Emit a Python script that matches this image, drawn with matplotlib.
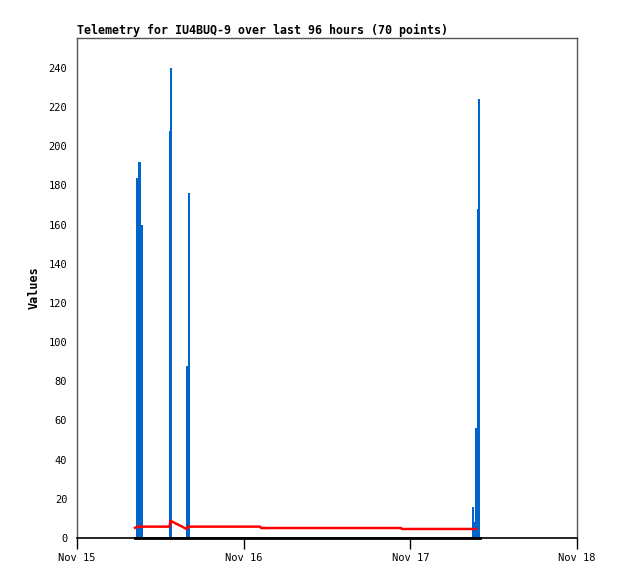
import matplotlib
matplotlib.use("Agg")
import matplotlib.pyplot as plt

# hours since Nov 15 00:00
blue_t = [8.6, 8.95, 9.1, 9.35, 13.35, 13.55, 15.85, 16.1, 57.0, 57.2, 57.5, 57.7, 57.9]
blue_v = [184, 192, 192, 160, 208, 240, 88, 176, 16, 8, 56, 168, 224]

red_t = [8.35, 8.8, 13.32, 13.46, 15.8, 15.98, 26.35, 26.5, 46.66, 46.8, 57.46]
red_v = [5.2, 5.8, 5.8, 8.8, 4.6, 5.8, 5.8, 5.1, 5.1, 4.6, 4.6]

black_t = [8.35, 58.0]
black_v = [0, 0]

tick_hours = [0, 24, 48, 72]
tick_labels = ["Nov 15", "Nov 16", "Nov 17", "Nov 18"]
y_ticks = list(range(0, 241, 20))

mono = "DejaVu Sans Mono"

fig = plt.figure(figsize=(6.18, 5.79), dpi=100)
ax = fig.add_axes([77/618, 41/579, 500/618, 500/579])

ax.bar(blue_t, blue_v, width=0.25, color="#0066cc", align="center", zorder=2)
ax.plot(red_t, red_v, color="#ff0000", linewidth=1.8, zorder=3)
ax.plot(black_t, black_v, color="black", linewidth=2, zorder=4, clip_on=False)

ax.set_xlim(0, 72)
ax.set_ylim(0, 255.3)
ax.set_xticks(tick_hours)
ax.set_xticklabels(tick_labels, fontfamily=mono, fontsize=7.5)
ax.set_yticks(y_ticks)
ax.set_yticklabels([str(v) for v in y_ticks], fontfamily=mono, fontsize=7.5)
ax.tick_params(axis="x", length=8, width=1, pad=3, direction="out")
ax.tick_params(axis="y", length=0, pad=7)

for s in ["left", "top", "right"]:
    ax.spines[s].set_color("#555555")
    ax.spines[s].set_linewidth(1)
ax.spines["bottom"].set_color("black")
ax.spines["bottom"].set_linewidth(1.2)

ax.set_ylabel("Values", fontfamily=mono, fontweight="bold", fontsize=8.5, labelpad=6)
ax.set_title("Telemetry for IU4BUQ-9 over last 96 hours (70 points)",
             fontfamily=mono, fontweight="bold", fontsize=8.4, loc="left", pad=3)

fig.savefig("out.png", dpi=100, facecolor="white")
